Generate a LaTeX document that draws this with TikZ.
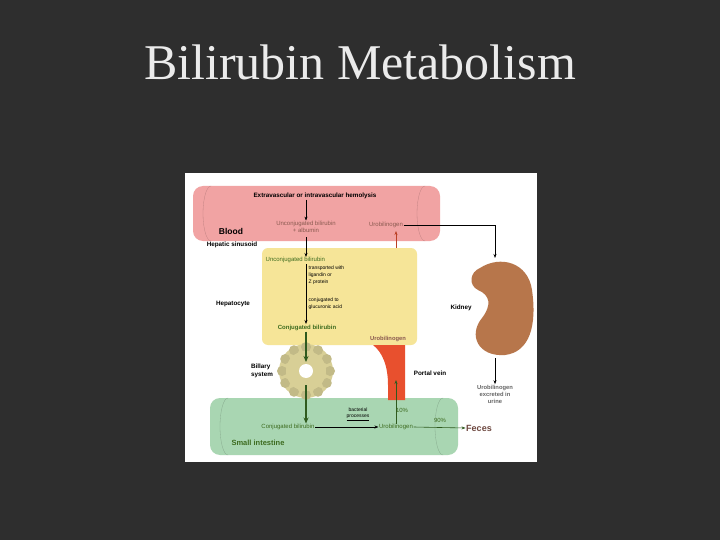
\documentclass[tikz,border=0pt]{standalone}
\usepackage{fontspec}
\setmainfont{Liberation Serif}
\newfontfamily\sansf{Liberation Sans}
\usetikzlibrary{arrows.meta,calc}
\definecolor{bg}{HTML}{2E2E2E}
\definecolor{pinkc}{HTML}{F1A3A3}
\definecolor{yelc}{HTML}{F6E598}
\definecolor{greenc}{HTML}{A9D6B2}
\definecolor{txtg}{HTML}{3D6B1F}
\definecolor{txtr}{HTML}{8A5A50}
\definecolor{kid}{HTML}{B7764B}
\definecolor{vein}{HTML}{E8502E}
\definecolor{ring}{HTML}{D8CF96}
\definecolor{dg}{HTML}{2F5A1E}
\tikzset{
 lbl/.style={font=\sansf\fontsize{6}{7}\selectfont,inner sep=0.5pt},
 blbl/.style={font=\sansf\bfseries\fontsize{6.3}{7.5}\selectfont,inner sep=0.5pt},
 arr/.style={-{Stealth[length=4pt,width=3pt]},line width=0.6pt},
 garr/.style={-{Stealth[length=6pt,width=5pt]},line width=1.3pt,dg}
}
\begin{document}
\begin{tikzpicture}[x=1pt,y=-1pt]
\fill[bg] (0,0) rectangle (720,540);
\useasboundingbox (0,0) rectangle (720,540);
\node[white!92!black,font=\fontsize{50}{54}\selectfont] (title) at (360,62) {Bilirubin Metabolism};
\fill[white] (185,173) rectangle (537,462);
% blood cylinder
\fill[pinkc,rounded corners=10pt] (193,186) rectangle (440,241);
\draw[pinkc!80!black,line width=0.3pt] (211,186) arc[start angle=270,end angle=90,x radius=8,y radius=27.5];
\draw[pinkc!80!black,line width=0.3pt] (425,186) arc[start angle=270,end angle=90,x radius=8,y radius=27.5];
% yellow box
\fill[yelc,rounded corners=6pt] (262,248) rectangle (417,345);
% green cylinder
\fill[greenc,rounded corners=10pt] (210,398) rectangle (458,455);
\draw[greenc!80!black,line width=0.3pt] (228,398) arc[start angle=270,end angle=90,x radius=8,y radius=28.5];
\draw[greenc!80!black,line width=0.3pt] (443,398) arc[start angle=270,end angle=90,x radius=8,y radius=28.5];
% kidney
\fill[kid] (480,268) .. controls (500,255) and (528,262) .. (532,290)
 .. controls (537,325) and (530,352) .. (505,355)
 .. controls (478,357) and (468,335) .. (482,318)
 .. controls (492,305) and (490,295) .. (478,290)
 .. controls (468,285) and (470,272) .. (480,268) -- cycle;
% portal vein
\fill[vein] (373,345) -- (405,345) -- (405,400) -- (388,400) -- (388,385) .. controls (388,365) and (382,352) .. (373,345) -- cycle;
% ring
\fill[ring] (306,371) circle (27);
\foreach \a in {0,30,...,330}{\fill[ring!90!black] ($(306,371)+(\a:24)$) circle (5);}
\fill[ring] (306,371) circle (20);
\fill[white] (306,371) circle (7);
% texts
\node[blbl] (hem) at (315,196) {Extravascular or intravascular hemolysis};
\node[lbl,txtr,align=center] (ucb) at (306,227) {Unconjugated bilirubin\\+ albumin};
\node[blbl,font=\sansf\bfseries\fontsize{8.5}{9}\selectfont] (blood) at (231,231) {Blood};
\node[lbl,txtr] (uro1) at (386,225) {Urobilinogen};
\node[blbl] (hs) at (232,245) {Hepatic sinusoid};
\node[lbl,txtg,anchor=west] (ucb2) at (265,260) {Unconjugated bilirubin};
\node[lbl,anchor=north west,align=left,font=\sansf\fontsize{5}{7}\selectfont] (tr) at (308,265) {transported with\\ligandin or\\Z protein};
\node[lbl,anchor=north west,align=left,font=\sansf\fontsize{5}{7}\selectfont] (cj) at (308,297) {conjugated to\\glucuronic acid};
\node[blbl] (hep) at (233,304) {Hepatocyte};
\node[lbl,txtg,font=\sansf\bfseries\fontsize{6}{7}\selectfont] (cb) at (307,328) {Conjugated bilirubin};
\node[lbl,txtr,font=\sansf\bfseries\fontsize{5.8}{7}\selectfont] (uro2) at (388,339) {Urobilinogen};
\node[blbl] (kidney) at (461,308) {Kidney};
\node[lbl,align=center,text=black!60,font=\sansf\bfseries\fontsize{5.8}{7}\selectfont] (urine) at (495,394) {Urobilinogen\\excreted in\\urine};
\node[blbl,align=left] (bil) at (262,371) {Billary\\system};
\node[blbl] (pv) at (430,373) {Portal vein};
\node[lbl,txtg] (cb2) at (288,427) {Conjugated bilirubin};
\node[lbl,txtg] (uro3) at (396,427) {Urobilinogen};
\node[lbl,align=center,font=\sansf\fontsize{5}{6}\selectfont] (bp) at (358,414) {bacterial\\\underline{processes}};
\node[lbl,txtg] (p10) at (402,410) {10\%};
\node[lbl,txtg] (p90) at (440,420) {90\%};
\node[blbl,font=\sansf\bfseries\fontsize{9}{10}\selectfont,txtr!80!black] (feces) at (479,428) {Feces};
\node[blbl,txtg,font=\sansf\bfseries\fontsize{7.5}{8}\selectfont] (si) at (258,443) {Small intestine};
\coordinate (k1) at (495,258);
\coordinate (k2) at (495,358);
\coordinate (v2) at (396,380);
\coordinate (y1) at (396,248);
\coordinate (y2) at (396,231);
\coordinate (b1) at (306,362);
\coordinate (b2) at (306,385);
% arrows
\draw[arr] (hem.south -| ucb.north) -- (ucb.north);
\draw[arr] (306,237) -- (306,257);
\draw[line width=0.6pt] (306,264) -- (306,322);
\draw[arr] (306,314) -- (306,324);
\draw[arr] (uro1.east) -| (k1);
\draw[arr,vein!80!black] (y1) -- (y2);
\draw[arr] (k2) -- (urine.north);
\draw[garr] (cb.south -| b1) -- (b1);
\draw[garr] (b2) -- (cb2.north -| b2);
\draw[arr] (cb2.east) -- (uro3.west);
\draw[arr,dg] (uro3.north) -- (v2);
\draw[arr,dg] (uro3.east) -- (feces.west);
\end{tikzpicture}
\end{document}
